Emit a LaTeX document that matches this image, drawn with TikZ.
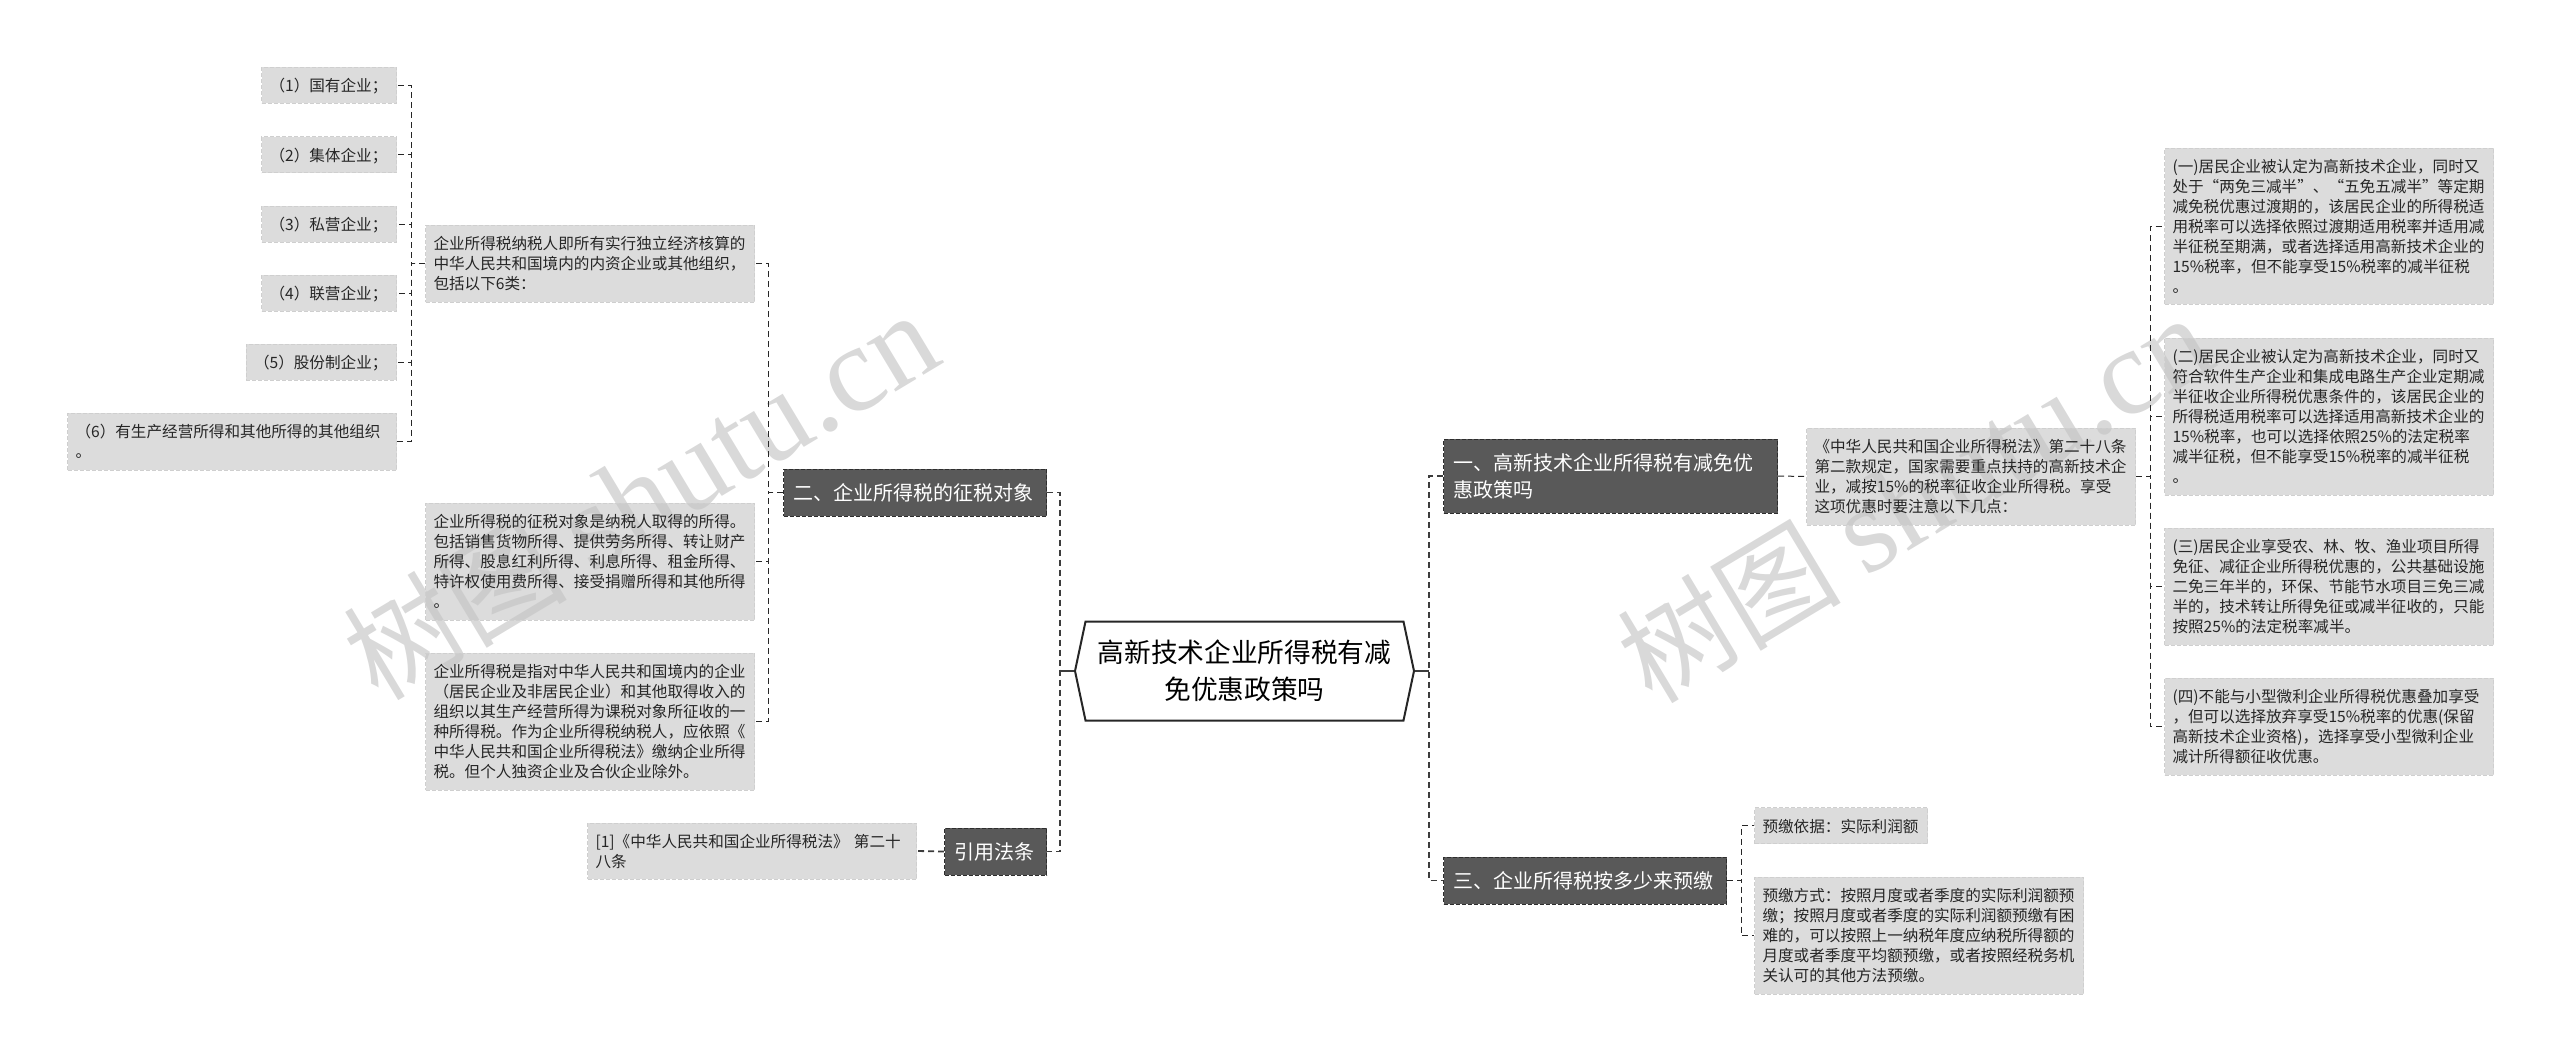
\documentclass[tikz,border=0pt]{standalone}
\usepackage{fontspec}
\setmainfont{Noto Sans CJK SC}
\newfontfamily\wmserif{Liberation Serif}
\usetikzlibrary{shapes.symbols}
\definecolor{markgray}{HTML}{D9D9D9}
\definecolor{leafgray}{HTML}{C4C4C4}
\definecolor{leafedge}{HTML}{CFCFCF}
\definecolor{themegray}{HTML}{595959}
\definecolor{themeedge}{HTML}{2E2E2E}
\definecolor{linegray}{HTML}{3C3C3C}
\tikzset{
    myroot/.style = {signal, signal to=west and east, signal pointer angle=156, draw=black!85, line width=2pt, fill=white, align=center, inner sep=0pt, minimum width=339pt, minimum height=99pt, font=\fontsize{26.7}{36.7}\selectfont},
    mytheme/.style = {rectangle, draw=themeedge, dashed, dash pattern=on 4pt off 2pt, line width=1pt, fill=themegray, text=white, align=left, inner xsep=10pt, inner ysep=0pt, font=\fontsize{20}{27}\selectfont},
    myleaf/.style = {rectangle, draw=leafedge, dash pattern=on 4pt off 2pt, line width=1pt, fill=leafgray, fill opacity=.6, text opacity=1, text=black!85, align=left, inner xsep=8pt, inner ysep=0pt, font=\fontsize{15.6}{20}\selectfont},
    myshort/.style = {myleaf, text height=16pt, minimum height=36pt},
    mymark/.style = {text=markgray, rotate=31, anchor=base west, inner sep=0pt, font=\fontsize{112}{112}\selectfont},
    edgeroot/.style = {-,line width=2.5pt,linegray},
    edgem/.style = {-,line width=1.8pt,linegray,dash pattern=on 6pt off 4pt},
    edgen/.style = {-,line width=1pt,black!85,dash pattern=on 6pt off 4pt},
}
\begin{document}
\begin{tikzpicture}[x=1pt,y=-1pt]
  \useasboundingbox (0,0) rectangle (2560,1061);
  % watermarks
  \node[mymark] (markl) at (378,703) {树图 {\wmserif\fontsize{123}{123}\selectfont shutu.cn}};
  \node[mymark] (markr) at (1652,706) {树图 {\wmserif\fontsize{123}{123}\selectfont shutu.cn}};
  % centre
  \node[myroot] (main) at (1244.5,671) {高新技术企业所得税有减\\免优惠政策吗};
  % left side
  \node[mytheme, anchor=west, text width=243pt, minimum height=47pt] (erfa) at (783,492.5) {二、企业所得税的征税对象};
  \node[mytheme, anchor=west, text width=82pt, minimum height=47pt] (fatiao) at (944,851.5) {引用法条};
  \node[myleaf, anchor=west, text width=313pt, minimum height=77pt] (nashui) at (425,263.5) {企业所得税纳税人即所有实行独立经济核算的\\中华人民共和国境内的内资企业或其他组织，\\包括以下6类：};
  \node[myleaf, anchor=west, text width=313pt, minimum height=117pt] (duixiang) at (425,561.5) {企业所得税的征税对象是纳税人取得的所得。\\包括销售货物所得、提供劳务所得、转让财产\\所得、股息红利所得、利息所得、租金所得、\\特许权使用费所得、接受捐赠所得和其他所得\\。};
  \node[myleaf, anchor=west, text width=313pt, minimum height=137pt] (dingyi) at (425,721.5) {企业所得税是指对中华人民共和国境内的企业\\（居民企业及非居民企业）和其他取得收入的\\组织以其生产经营所得为课税对象所征收的一\\种所得税。作为企业所得税纳税人，应依照《\\中华人民共和国企业所得税法》缴纳企业所得\\税。但个人独资企业及合伙企业除外。};
  \node[myleaf, anchor=west, text width=313pt, minimum height=56pt] (yinfa) at (587,851) {[1]《中华人民共和国企业所得税法》 第二十\\八条};
  \node[myshort, anchor=west, text width=119pt] (guoyou) at (261,85) {（1）国有企业；};
  \node[myshort, anchor=west, text width=119pt] (jiti) at (261,154.5) {（2）集体企业；};
  \node[myshort, anchor=west, text width=119pt] (siying) at (261,224) {（3）私营企业；};
  \node[myshort, anchor=west, text width=119pt] (lianying) at (261,293) {（4）联营企业；};
  \node[myshort, anchor=west, text width=134.5pt] (gufen) at (245.5,362) {（5）股份制企业；};
  \node[myleaf, anchor=west, text width=313pt, minimum height=57pt] (qita) at (67,441.5) {（6）有生产经营所得和其他所得的其他组织\\。};
  % right side
  \node[mytheme, anchor=west, text width=314pt, minimum height=74pt] (yifa) at (1443,476) {一、高新技术企业所得税有减免优\\惠政策吗};
  \node[mytheme, anchor=west, text width=263pt, minimum height=47pt] (sanfa) at (1443,880.5) {三、企业所得税按多少来预缴};
  \node[myleaf, anchor=west, text width=313pt, minimum height=97pt] (fagui) at (1806,476.5) {《中华人民共和国企业所得税法》第二十八条\\第二款规定，国家需要重点扶持的高新技术企\\业，减按15\%的税率征收企业所得税。享受\\这项优惠时要注意以下几点：};
  \node[myleaf, anchor=west, text width=313pt, minimum height=156pt] (youhuia) at (2164,226) {(一)居民企业被认定为高新技术企业，同时又\\处于“两免三减半”、“五免五减半”等定期\\减免税优惠过渡期的，该居民企业的所得税适\\用税率可以选择依照过渡期适用税率并适用减\\半征税至期满，或者选择适用高新技术企业的\\15\%税率，但不能享受15\%税率的减半征税\\。};
  \node[myleaf, anchor=west, text width=313pt, minimum height=157pt] (youhuib) at (2164,416.5) {(二)居民企业被认定为高新技术企业，同时又\\符合软件生产企业和集成电路生产企业定期减\\半征收企业所得税优惠条件的，该居民企业的\\所得税适用税率可以选择适用高新技术企业的\\15\%税率，也可以选择依照25\%的法定税率\\减半征税，但不能享受15\%税率的减半征税\\。};
  \node[myleaf, anchor=west, text width=313pt, minimum height=117pt] (youhuic) at (2164,586.5) {(三)居民企业享受农、林、牧、渔业项目所得\\免征、减征企业所得税优惠的，公共基础设施\\二免三年半的，环保、节能节水项目三免三减\\半的，技术转让所得免征或减半征收的，只能\\按照25\%的法定税率减半。};
  \node[myleaf, anchor=west, text width=313pt, minimum height=97pt] (youhuid) at (2164,726.5) {(四)不能与小型微利企业所得税优惠叠加享受\\，但可以选择放弃享受15\%税率的优惠(保留\\高新技术企业资格)，选择享受小型微利企业\\减计所得额征收优惠。};
  \node[myshort, anchor=west, text width=157pt] (yijiao) at (1754,825.5) {预缴依据：实际利润额};
  \node[myleaf, anchor=west, text width=313pt, minimum height=117pt] (fangshi) at (1754,935.5) {预缴方式：按照月度或者季度的实际利润额预\\缴；按照月度或者季度的实际利润额预缴有困\\难的，可以按照上一纳税年度应纳税所得额的\\月度或者季度平均额预缴，或者按照经税务机\\关认可的其他方法预缴。};
  % connectors
  \coordinate (busl) at (1059,671);
  \coordinate (busr) at (1429,671);
  \draw[edgeroot] (main.west) -- (busl);
  \draw[edgeroot] (main.east) -- (busr);
  \draw[edgem] (erfa.east) -- ++(13,0) |- (fatiao.east);
  \draw[edgem] (yifa.west) -- ++(-14,0) |- (sanfa.west);
  \draw[edgen] (erfa.west) -- ++(-14.5,0) |- (nashui.east);
  \draw[edgen] (erfa.west) -- ++(-14.5,0) |- (duixiang.east);
  \draw[edgen] (erfa.west) -- ++(-14.5,0) |- (dingyi.east);
  \draw[edgen] (nashui.west) -- ++(-14,0) |- (guoyou.east);
  \draw[edgen] (nashui.west) -- ++(-14,0) |- (jiti.east);
  \draw[edgen] (nashui.west) -- ++(-14,0) |- (siying.east);
  \draw[edgen] (nashui.west) -- ++(-14,0) |- (lianying.east);
  \draw[edgen] (nashui.west) -- ++(-14,0) |- (gufen.east);
  \draw[edgen] (nashui.west) -- ++(-14,0) |- (qita.east);
  \draw[edgem] (fatiao.west) -- (yinfa.east);
  \draw[edgen] (yifa.east) -- (fagui.west);
  \draw[edgen] (fagui.east) -- ++(14,0) |- (youhuia.west);
  \draw[edgen] (fagui.east) -- ++(14,0) |- (youhuib.west);
  \draw[edgen] (fagui.east) -- ++(14,0) |- (youhuic.west);
  \draw[edgen] (fagui.east) -- ++(14,0) |- (youhuid.west);
  \draw[edgen] (sanfa.east) -- ++(14,0) |- (yijiao.west);
  \draw[edgen] (sanfa.east) -- ++(14,0) |- (fangshi.west);
\end{tikzpicture}
\end{document}
